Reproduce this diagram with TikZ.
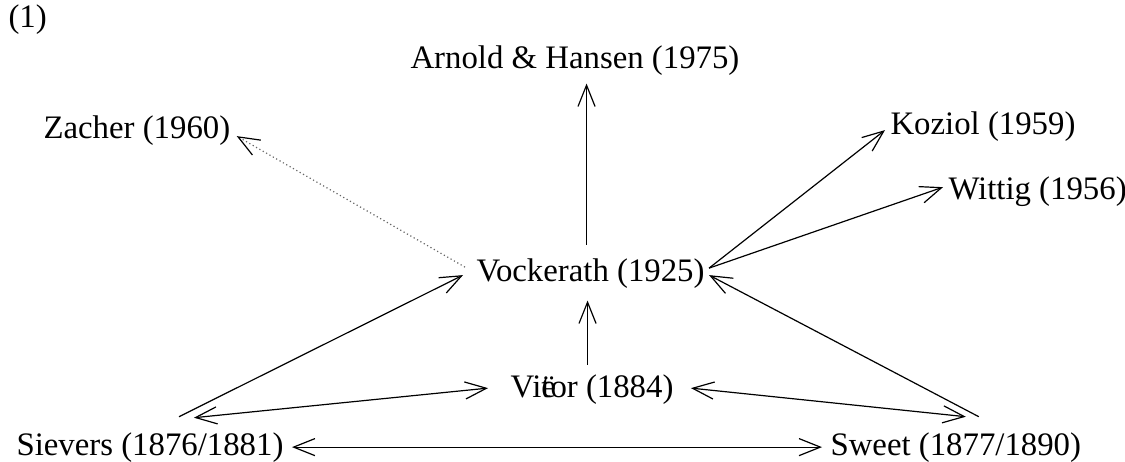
\documentclass[tikz,border=0pt]{standalone}
\usepackage{fontspec}
\setmainfont{Liberation Serif}
\usetikzlibrary{arrows.meta}
\begin{document}
\begin{tikzpicture}[x=0.375pt,y=-0.375pt,
  >={Straight Barb[length=8pt,width=6.4pt,color=black]},
  label/.style={inner sep=0pt, anchor=base west, font=\fontsize{12.3pt}{14pt}\selectfont},
  link/.style={line width=0.45pt},
  faint/.style={line width=0.45pt, densely dotted, draw=black!60}]
\useasboundingbox (0,0) rectangle (1125,461);

% authors and years
\node[label] (num)    at (8,27)    {(1)};
\node[label] (arnold) at (410,68)  {Arnold \& Hansen (1975)};
\node[label] (zacher) at (43,138)  {Zacher (1960)};
\node[label] (koziol) at (890,134) {Koziol (1959)};
\node[label] (wittig) at (948,199) {Wittig (1956)};
\node[label] (voc)    at (476,281) {Vockerath (1925)};
\node[label] (vietor) at (510,397) {Vi\rlap{ë}tor (1884)};
\node[label] (siev)   at (16,455)  {Sievers (1876/1881)};
\node[label] (sweet)  at (830,455) {Sweet (1877/1890)};

% influence lines
\draw[link,->] ([shift={(-4,-13)}]voc.north) -- ([shift={(-4,8)}]voc.north |- arnold.south);
\draw[faint,->] ([shift={(-11,-6)}]voc.west) -- ([shift={(6,6)}]zacher.east);
\draw[link,->] ([shift={(4,-5)}]voc.east) -- ([shift={(-5,4)}]koziol.west);
\draw[link,->] ([shift={(4,-5)}]voc.east) -- ([shift={(-5,-4)}]wittig.west);
\draw[link,->] ([shift={(-3,-9)}]voc.south |- vietor.north) -- ([shift={(-3,12)}]voc.south);
\draw[link,->] ([shift={(29,-15)}]siev.north) -- ([shift={(-13,2)}]voc.west);
\draw[link,->] ([shift={(23,-15)}]sweet.north) -- ([shift={(4,2)}]voc.east);
\draw[link,<->] ([shift={(44,-14)}]siev.north) -- ([shift={(-22,-1)}]vietor.west);
\draw[link,<->] ([shift={(17,-1)}]vietor.east) -- ([shift={(10,-15)}]sweet.north);
\draw[link,<->] ([shift={(8,0)}]siev.east) -- ([shift={(-8,0)}]sweet.west);
\end{tikzpicture}
\end{document}
